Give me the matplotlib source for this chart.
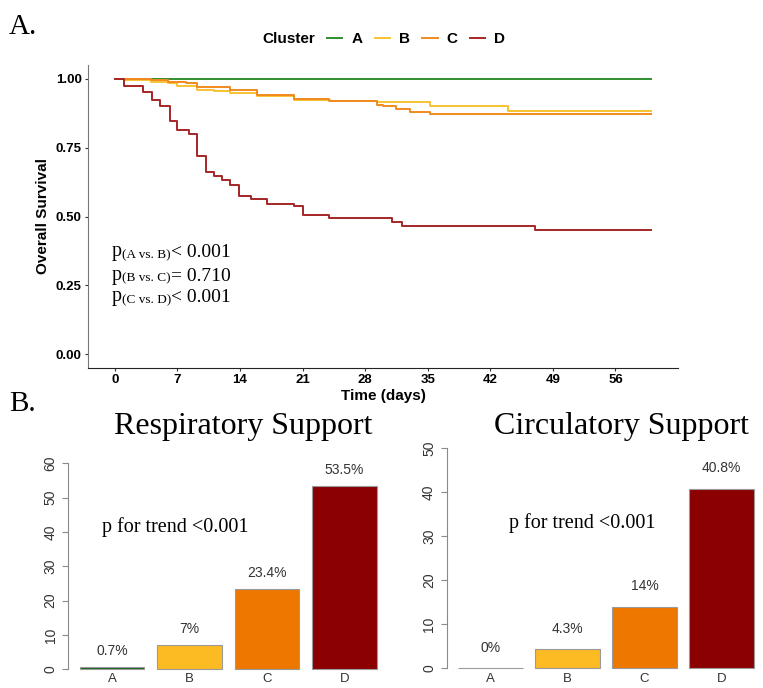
import matplotlib
matplotlib.use("Agg")
import matplotlib.pyplot as plt

plt.rcParams['font.family'] = ['Liberation Sans', 'DejaVu Sans']

W, H = 763, 688

# survival curves (step, post)
a_days = [0, 60]
a_surv = [1.0, 1.0]

b_days = [0, 1.0, 4.0, 5.9, 7.0, 9.2, 11.1, 12.9, 15.9, 20.0, 24.1, 29.3, 35.3, 44.0, 60]
b_surv = [1.0, 0.996, 0.990, 0.984, 0.975, 0.960, 0.954, 0.948, 0.936, 0.923, 0.918, 0.914, 0.902, 0.884, 0.884]

c_days = [0, 4.0, 5.9, 8.0, 9.2, 12.9, 15.9, 20.0, 24.0, 29.3, 30.0, 31.5, 33.0, 35.3, 60]
c_surv = [1.0, 0.996, 0.990, 0.984, 0.970, 0.958, 0.940, 0.925, 0.918, 0.906, 0.900, 0.890, 0.879, 0.872, 0.872]

d_days = [0, 1.0, 3.1, 4.2, 5.1, 6.2, 7.0, 8.3, 9.15, 10.2, 11.1, 12.0, 12.9, 13.9, 15.2,
          17.0, 20.0, 21.1, 24.0, 31.0, 32.1, 47.0, 60]
d_surv = [1.0, 0.972, 0.951, 0.924, 0.900, 0.845, 0.815, 0.800, 0.720, 0.660, 0.646, 0.634,
          0.616, 0.576, 0.562, 0.547, 0.537, 0.507, 0.495, 0.480, 0.467, 0.452, 0.452]

clusters = ['A', 'B', 'C', 'D']
line_colors = ['#2F8F2F', '#F7C232', '#F08A1F', '#A52626']
bar_colors = ['#155F15', '#FCBA23', '#EE7700', '#8B0000']

p_groups = ['(A vs. B)', '(B vs. C)', '(C vs. D)']
p_values = ['< 0.001', '= 0.710', '< 0.001']

resp_vals = [0.7, 7, 23.4, 53.5]
resp_labels = ['0.7%', '7%', '23.4%', '53.5%']
circ_vals = [0, 4.3, 14, 40.8]
circ_labels = ['0%', '4.3%', '14%', '40.8%']
bar_pos = [0.7, 1.9, 3.1, 4.3]


def frac_box(x0, y0, x1, y1):
    # pixel box (top-left origin) -> figure fraction rect
    return [x0 / W, 1 - y1 / H, (x1 - x0) / W, (y1 - y0) / H]


fig = plt.figure(figsize=(W / 100, H / 100), dpi=100)

# ---- A. Kaplan-Meier curves
ax = fig.add_axes(frac_box(88, 65, 678, 368))
handles = []
for days, surv, col, name in zip([a_days, b_days, c_days, d_days],
                                 [a_surv, b_surv, c_surv, d_surv],
                                 line_colors, clusters):
    ln, = ax.step(days, surv, where='post', color=col, lw=1.4, label=name)
    handles.append(ln)

ax.set_xlim(-3, 63)
ax.set_ylim(-0.05, 1.05)
ax.set_xticks(range(0, 57, 7))
ax.set_yticks([0, 0.25, 0.5, 0.75, 1.0])
ax.set_yticklabels(['0.00', '0.25', '0.50', '0.75', '1.00'])
for s in ['top', 'right']:
    ax.spines[s].set_visible(False)
ax.spines['left'].set_color('#777777')
ax.spines['bottom'].set_color('#222222')
ax.tick_params(length=2.5, width=0.8, color='#333333', labelsize=9.5, pad=2)
for t in ax.get_xticklabels() + ax.get_yticklabels():
    t.set_fontweight('bold')
ax.set_ylabel('Overall Survival', fontsize=11, fontweight='bold')
ax.set_xlabel('Time (days)', fontsize=11, fontweight='bold')
ax.yaxis.set_label_coords(-0.064, 0.5)
ax.xaxis.set_label_coords(0.5, -0.07)

# p-values with small subscript groups
ys = [0.372, 0.287, 0.209]
for grp, val, y in zip(p_groups, p_values, ys):
    t1 = ax.text(-0.3, y, 'p', family='Liberation Serif', fontsize=14.5, va='center')
    t2 = ax.annotate(grp, xy=(1, 0), xycoords=t1, va='bottom', ha='left',
                     family='Liberation Serif', fontsize=9.5)
    ax.annotate(val, xy=(1, 0), xycoords=t2, va='bottom', ha='left',
                family='Liberation Serif', fontsize=14)

# legend
fig.text(262 / W, 1 - 39 / H, 'Cluster', fontsize=11, fontweight='bold', va='center')
fig.legend(handles=handles, labels=clusters, loc='center left',
           bbox_to_anchor=(327 / W, 1 - 39 / H), ncol=4, frameon=False,
           prop={'weight': 'bold', 'size': 11}, handlelength=1.0,
           handletextpad=0.6, columnspacing=0.8, borderpad=0, borderaxespad=0)

fig.text(9 / W, 1 - 34.3 / H, 'A.', family='Liberation Serif', fontsize=21, va='baseline')
fig.text(9 / W, 1 - 410.7 / H, 'B.', family='Liberation Serif', fontsize=21, va='baseline')


# ---- B. bar charts
def bar_panel(rect, vals, labels, ytop, xmax, title, title_x, ptxt_xy):
    bx = fig.add_axes(rect)
    bx.bar(bar_pos, vals, width=1.0, color=bar_colors, edgecolor='#9a9a9a', linewidth=0.8)
    for x, v, lab in zip(bar_pos, vals, labels):
        bx.text(x, v + 4.6, lab, ha='center', va='center', fontsize=10, color='#333333')
    bx.set_xlim(0.016, xmax)
    bx.set_ylim(-1, ytop + 1)
    bx.set_yticks(range(0, ytop + 1, 10))
    bx.set_xticks(bar_pos)
    bx.set_xticklabels(clusters)
    for s in ['top', 'right', 'bottom']:
        bx.spines[s].set_visible(False)
    bx.spines['left'].set_bounds(0, ytop)
    bx.spines['left'].set_color('#8a8a8a')
    bx.tick_params(axis='y', length=4.5, width=0.8, color='#8a8a8a', labelsize=10,
                   labelcolor='#333333', labelrotation=90, pad=3)
    bx.tick_params(axis='x', length=0, labelsize=9.5, labelcolor='#333333', pad=0)
    for t in bx.get_yticklabels():
        t.set_va('center')
    bx.text(ptxt_xy[0], ptxt_xy[1], 'p for trend <0.001', family='Liberation Serif',
            fontsize=14.5, va='center', ha='left')
    fig.text(title_x / W, 1 - 434.3 / H, title, family='Liberation Serif', fontsize=23,
             ha='center', va='baseline')
    return bx


bar_panel(frac_box(68.1, 459.9, 388.6, 672.7), resp_vals, resp_labels, 60, 4.984,
          'Respiratory Support', 243, (0.54, 41.5))
bar_panel(frac_box(446.5, 443.8, 763, 672.7), circ_vals, circ_labels, 50, 4.946,
          'Circulatory Support', 621.7, (0.99, 33.0))

fig.savefig('out.png', dpi=100)
